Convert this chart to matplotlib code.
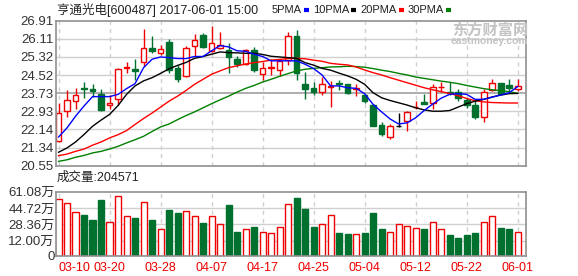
import matplotlib
matplotlib.use('Agg')
import matplotlib.pyplot as plt
from matplotlib.lines import Line2D
import numpy as np

plt.rcParams['font.family'] = ['Liberation Sans', 'Noto Sans CJK SC', 'DejaVu Sans']

# daily data, 2017-03-10 .. 2017-06-01
date_labels = ['03-10', '03-20', '03-28', '04-07', '04-17', '04-25', '05-04', '05-12', '05-22', '06-01']
date_pos = [0, 6, 12, 18, 24, 30, 36, 42, 48, 54]

opens = [21.62, 22.94, 23.38, 23.94, 23.93, 23.69, 23.21, 23.49, 24.83, 24.81,
         25.10, 25.73, 25.50, 25.98, 24.82, 24.49, 25.82, 26.28, 25.59, 25.72,
         25.63, 25.24, 25.00, 25.63, 24.59, 24.84, 24.75, 25.18, 26.25, 24.13,
         23.97, 23.80, 24.00, 24.18, 24.12, 23.93, 23.66, 23.21, 22.35, 21.80,
         22.28, 22.53, 23.11, 23.34, 23.28, 23.99, 23.80, 23.80, 23.43, 23.22,
         22.68, 23.85, 24.19, 24.09, 23.91]
closes = [22.84, 23.43, 23.65, 23.92, 23.83, 22.99, 23.30, 24.81, 24.87, 24.71,
          25.72, 25.57, 25.66, 24.74, 24.37, 25.71, 26.06, 25.76, 25.94, 25.84,
          25.31, 25.00, 25.63, 24.74, 24.85, 24.86, 25.14, 26.22, 24.60, 23.90,
          23.78, 24.12, 24.06, 24.13, 23.75, 23.96, 23.38, 22.31, 21.92, 22.28,
          22.28, 22.90, 23.14, 23.27, 24.00, 24.02, 23.75, 23.53, 23.21, 22.68,
          23.80, 24.19, 23.71, 23.97, 24.06]
highs = [23.31, 23.85, 23.94, 24.22, 24.15, 23.93, 23.63, 24.85, 25.10, 25.21,
         26.53, 26.22, 25.84, 26.09, 24.96, 25.78, 26.32, 26.38, 26.69, 26.43,
         25.91, 25.37, 25.69, 25.75, 25.09, 25.24, 25.25, 26.40, 26.51, 24.66,
         24.22, 24.46, 24.27, 24.30, 24.15, 24.15, 23.71, 23.27, 22.47, 22.39,
         22.87, 22.94, 23.39, 23.71, 24.12, 24.22, 24.21, 23.90, 23.53, 23.38,
         23.90, 24.36, 24.19, 24.36, 24.36]
lows = [21.59, 22.68, 23.02, 23.50, 23.58, 22.93, 23.02, 23.21, 24.63, 24.30,
        24.93, 25.50, 25.41, 24.63, 24.22, 24.44, 25.37, 25.71, 25.54, 25.66,
        24.62, 24.90, 24.96, 24.68, 24.31, 24.53, 24.49, 24.97, 24.31, 23.46,
        23.66, 23.63, 23.12, 23.87, 23.68, 23.59, 23.30, 22.28, 21.86, 21.71,
        22.24, 22.09, 23.02, 23.24, 23.02, 23.80, 23.65, 23.38, 23.06, 22.62,
        22.47, 23.82, 23.68, 23.82, 23.82]
# volume in 万 shares
volumes = [53.4, 49.4, 40.4, 37.8, 32.8, 52.8, 30.4, 56.7, 36.4, 34.8,
           50.4, 32.8, 23.4, 42.7, 39.7, 41.4, 36.4, 29.7, 36.4, 28.4,
           47.8, 20.8, 23.4, 25.7, 20.4, 19.4, 25.4, 48.8, 54.7, 43.7,
           25.7, 28.7, 37.7, 20.1, 19.1, 18.7, 20.1, 39.7, 23.7, 20.8,
           28.7, 26.7, 24.7, 23.7, 30.7, 23.4, 17.8, 14.8, 17.8, 20.1,
           30.7, 36.7, 24.7, 23.7, 20.46]

ma5 = [21.81, 22.21, 22.72, 23.17, 23.58, 23.58, 23.58, 23.68, 23.93, 24.15,
       24.85, 25.22, 25.32, 25.29, 25.25, 25.25, 25.34, 25.34, 25.59, 25.82,
       25.76, 25.59, 25.57, 25.44, 25.34, 25.15, 25.15, 25.15, 25.15, 25.00,
       24.81, 24.53, 24.05, 24.05, 23.97, 23.94, 23.71, 23.24, 22.91, 22.60,
       22.38, 22.43, 22.65, 22.97, 23.25, 23.51, 23.68, 23.71, 23.68, 23.46,
       23.46, 23.56, 23.65, 23.75, 24.02]
ma10 = [21.14, 21.33, 21.59, 21.92, 22.28, 22.55, 22.80, 23.19, 23.68, 24.05,
        24.27, 24.41, 24.60, 24.80, 24.95, 25.08, 25.26, 25.34, 25.44, 25.54,
        25.51, 25.50, 25.48, 25.48, 25.43, 25.35, 25.32, 25.29, 25.26, 25.07,
        24.96, 24.82, 24.74, 24.61, 24.49, 24.34, 24.12, 23.75, 23.53, 23.41,
        23.31, 23.21, 23.09, 23.00, 22.94, 22.94, 22.97, 23.12, 23.27, 23.38,
        23.46, 23.56, 23.65, 23.71, 23.72]
ma20 = [20.99, 21.06, 21.18, 21.28, 21.45, 21.59, 21.77, 21.91, 22.09, 22.36,
        22.62, 22.86, 23.12, 23.38, 23.60, 23.85, 24.12, 24.34, 24.56, 24.71,
        24.85, 24.93, 25.01, 25.07, 25.12, 25.18, 25.21, 25.25, 25.26, 25.24,
        25.18, 25.13, 25.04, 25.00, 24.97, 24.88, 24.75, 24.63, 24.53, 24.41,
        24.30, 24.19, 24.08, 23.97, 23.88, 23.80, 23.72, 23.62, 23.50, 23.40,
        23.35, 23.32, 23.31, 23.30, 23.30]
ma30 = [20.74, 20.81, 20.92, 21.00, 21.11, 21.18, 21.28, 21.40, 21.55, 21.69,
        21.84, 22.05, 22.25, 22.38, 22.57, 22.75, 22.91, 23.09, 23.27, 23.44,
        23.60, 23.78, 23.94, 24.07, 24.22, 24.34, 24.47, 24.59, 24.71, 24.78,
        24.82, 24.85, 24.88, 24.89, 24.91, 24.90, 24.87, 24.81, 24.74, 24.68,
        24.60, 24.53, 24.44, 24.38, 24.32, 24.26, 24.21, 24.15, 24.07, 24.00,
        23.93, 23.88, 23.84, 23.80, 23.72]

price_ticks = [20.55, 21.34, 22.14, 22.93, 23.73, 24.52, 25.32, 26.11, 26.91]
vol_ticks = [12.00, 28.36, 44.72, 61.08]

RED = '#f00000'
GREEN = '#00702f'
GRID = '#d0d0d0'
FRAME = '#909090'

W, H = 578, 276
fig = plt.figure(figsize=(W / 100, H / 100), dpi=100)

def px(x0, y0, x1, y1):
    return [x0 / W, 1 - y1 / H, (x1 - x0) / W, (y1 - y0) / H]

ax = fig.add_axes(px(56, 20.7, 525.7, 165.7))
axv = fig.add_axes(px(56, 191.7, 525.7, 256))

o = np.array(opens); c = np.array(closes)
h = np.array(highs); l = np.array(lows)
v = np.array(volumes)
x = np.arange(len(o))
xlim = (-0.3, 54.95)

up = c > o
down = c < o
flat = c == o

# ---- price panel ----
ax.set_xlim(*xlim)
ax.set_ylim(price_ticks[0], price_ticks[-1])
for t in price_ticks[1:-1]:
    mid = t == price_ticks[4]
    ax.axhline(t, color='#a0a0a0' if mid else GRID, lw=1.2 if mid else 1, zorder=0)
for p in date_pos:
    ax.axvline(p, color=GRID, lw=1, ls=(0, (3, 3)), zorder=0)

wick_col = np.where(up, RED, np.where(down, GREEN, 'black'))
ax.vlines(x, l, h, colors=wick_col, lw=1, zorder=1)
ax.bar(x[up], (c - o)[up], bottom=o[up], width=0.68, facecolor='white',
       edgecolor=RED, lw=1, zorder=2)
ax.bar(x[down], (c - o)[down], bottom=o[down], width=0.68, facecolor=GREEN,
       edgecolor=GREEN, lw=1, zorder=2)
ax.hlines(c[flat], x[flat] - 0.34, x[flat] + 0.34, colors='black', lw=1, zorder=2)

ax.plot(x, ma30, color='#008000', lw=1, zorder=3)
ax.plot(x, ma20, color='#ff0000', lw=1, zorder=3)
ax.plot(x, ma10, color='black', lw=1, zorder=3)
ax.plot(x, ma5, color='#0000ff', lw=1, zorder=3)

ax.set_yticks(price_ticks)
ax.set_yticklabels(['%.2f' % t for t in price_ticks])
ax.set_xticks([])
ax.tick_params(axis='y', length=0, pad=2, labelsize=9.5, labelcolor='#333333')

# ---- volume panel ----
vfloor = -3.46
axv.set_xlim(*xlim)
axv.set_ylim(vfloor, vol_ticks[-1])
for t in vol_ticks[:-1]:
    axv.axhline(t, color=GRID, lw=1, zorder=0)
for p in date_pos:
    axv.axvline(p, color=GRID, lw=1, ls=(0, (3, 3)), zorder=0)
vup = c >= o
axv.bar(x[vup], v[vup] - vfloor, bottom=vfloor, width=0.72, facecolor='white',
        edgecolor=RED, lw=1, zorder=2)
axv.bar(x[~vup], v[~vup] - vfloor, bottom=vfloor, width=0.72, facecolor=GREEN,
        edgecolor=GREEN, lw=1, zorder=2)
axv.set_yticks([vfloor] + vol_ticks)
axv.set_yticklabels(['0'] + ['%.2f万' % t for t in vol_ticks])
axv.tick_params(axis='y', length=0, pad=1, labelsize=9.5, labelcolor='#333333')
axv.set_xticks(date_pos)
axv.set_xticklabels(date_labels)
axv.tick_params(axis='x', length=0, pad=4, labelsize=9, labelcolor=RED)
axv.get_xticklabels()[0].set_ha('left')

for a in (ax, axv):
    for s in a.spines.values():
        s.set_color(FRAME)
        s.set_linewidth(1.2)

# ---- header texts ----
def ty(y):
    return 1 - y / H

fig.text(57 / W, ty(10), '亨通光电[600487] 2017-06-01 15:00', fontsize=9,
         va='center', color='#222222')

renderer = fig.canvas.get_renderer()
legend = [('5PMA', '#0000ff'), ('10PMA', 'black'), ('20PMA', '#ff0000'), ('30PMA', '#008000')]
xp = 272
for name, col in legend:
    t = fig.text(xp / W, ty(10), name, fontsize=8, va='center', color='#222222')
    bb = t.get_window_extent(renderer)
    xe = bb.x1 + 2
    fig.add_artist(Line2D([xe / W, (xe + 5) / W], [ty(10), ty(10)], color=col, lw=3,
                          solid_capstyle='butt'))
    xp = xe + 9

fig.text(57 / W, ty(178), '成交量:204571', fontsize=9, va='center', color='#222222')

# watermark
fig.text(490 / W, ty(30), '东方财富网', fontsize=11, weight='bold', ha='center',
         va='center', color='#c4c4c4')
fig.text(489 / W, ty(41), 'eastmoney.com', fontsize=7.5, weight='bold', ha='center',
         va='center', color='#c4c4c4')

fig.savefig('out.png', dpi=100)
